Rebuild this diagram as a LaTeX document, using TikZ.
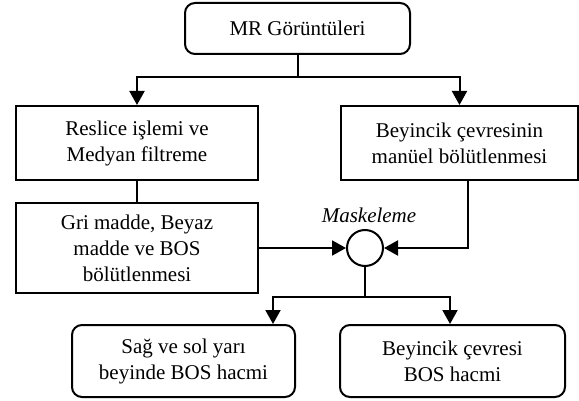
\documentclass[tikz,border=0pt]{standalone}
\usepackage{fontspec}
\setmainfont{Liberation Serif}
\usetikzlibrary{arrows.meta,positioning}
\tikzset{
  box/.style={draw, line width=2pt, align=center, inner sep=0pt,
    font=\fontsize{21}{26}\selectfont},
  rbox/.style={box, rounded corners=10pt},
  conn/.style={line width=2pt},
  arr/.style={conn, -{Triangle[width=15pt,length=14pt]}},
  circ/.style={draw, circle, line width=2pt, minimum size=36pt, inner sep=0pt}
}
\begin{document}
\begin{tikzpicture}[x=1pt,y=-1pt]
\useasboundingbox (0,0) rectangle (579,401);
\node[rbox, minimum width=225pt, minimum height=51pt] (mr) at (297.5,28.5) {MR Görüntüleri};
\node[box, minimum width=242pt, minimum height=74pt] (res) at (137,143) {Reslice işlemi ve\\Medyan filtreme};
\node[box, minimum width=237pt, minimum height=74pt] (bey) at (459.5,143) {Beyincik çevresinin\\manüel bölütlenmesi};
\node[box, minimum width=242pt, minimum height=90pt] (gri) at (137,248) {Gri madde, Beyaz\\madde ve BOS\\bölütlenmesi};
\node[circ] (c) at (365,248) {};
\node[anchor=base, font=\fontsize{21}{26}\selectfont\itshape] (mask) at (369,223) {Maskeleme};
\node[rbox, minimum width=223pt, minimum height=72pt] (bl) at (183.5,361) {Sağ ve sol yarı\\beyinde BOS hacmi};
\node[rbox, minimum width=225pt, minimum height=72pt] (br) at (452.5,361) {Beyincik çevresi\\BOS hacmi};

\coordinate (j1) at (297.5,77);
\coordinate (j2) at (365,297);
\draw[conn] (mr.south) -- (j1);
\draw[arr] (j1) -| (res.north);
\draw[arr] (j1) -| (bey.north);
\draw[conn] (res.south) -- (gri.north);
\draw[arr] (gri.east) -- (c.west);
\draw[arr] ([xshift=8pt]bey.south) |- (c.east);
\draw[conn] (c.south) -- (j2);
\draw[arr] (j2) -| ([xshift=89.5pt]bl.north);
\draw[arr] (j2) -| ([xshift=-2.5pt]br.north);
\end{tikzpicture}
\end{document}
